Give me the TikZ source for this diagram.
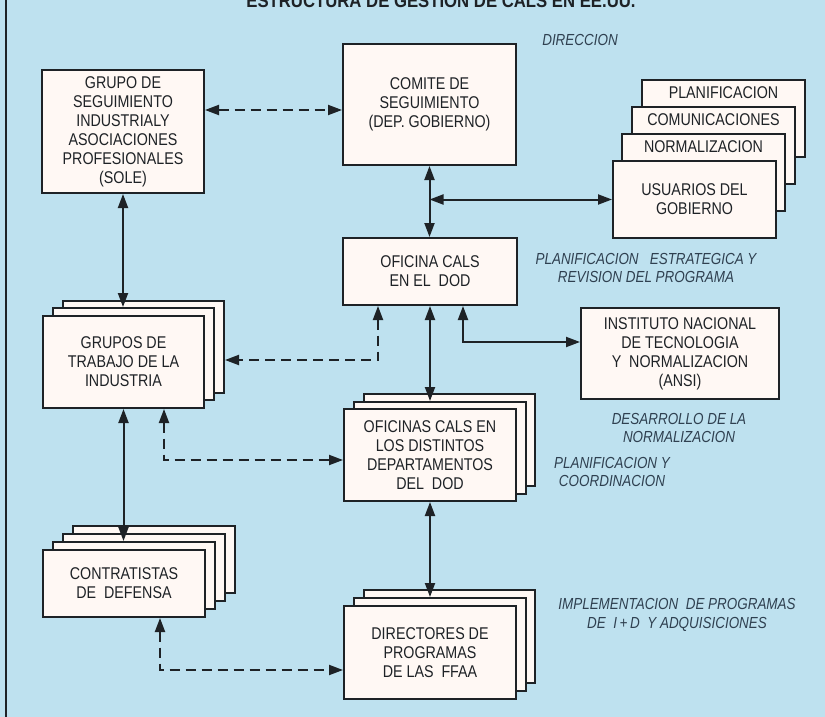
\documentclass[tikz,border=0pt]{standalone}
\usepackage{fontspec}
\setmainfont[FakeStretch=0.84]{Liberation Sans}
\newfontfamily\titlefont[FakeStretch=0.88]{Liberation Sans}
\usetikzlibrary{arrows.meta,calc}
\definecolor{bgblue}{HTML}{BEE1EF}
\definecolor{boxfill}{HTML}{FFF8F4}
\definecolor{ink}{HTML}{1E2226}
\definecolor{labink}{HTML}{2F4050}
\newcommand\mkbox[6]{\node[box,minimum width={(#4-#2)*1pt},minimum height={(#5-#3)*1pt}] (#1) at (#2,#3) {#6};}
\begin{document}
\begin{tikzpicture}[x=1pt,y=-1pt,
  >={Triangle[length=14pt,width=10pt]},
  box/.style={draw=ink,fill=boxfill,line width=2pt,inner sep=0pt,anchor=north west,align=center,
    font=\fontsize{17}{19}\selectfont,text=ink},
  txt/.style={inner sep=0pt,align=center,font=\fontsize{17}{19}\selectfont,text=ink},
  lab/.style={inner sep=0pt,align=center,font=\itshape\fontsize{16}{18.5}\selectfont,text=labink},
  arr/.style={draw=ink,line width=2pt,<->},
  dsh/.style={dash pattern=on 10pt off 6pt}]
\useasboundingbox (0,0) rectangle (825,717);
\fill[bgblue] (0,0) rectangle (825,717);
\draw[ink,line width=2.5pt] (6,0) -- (6,717);
\node[font=\titlefont\bfseries\fontsize{19}{19}\selectfont,text=ink,anchor=base,inner sep=0pt] (title) at (441,8) {ESTRUCTURA DE GESTION DE CALS EN EE.UU.};
% single boxes
\mkbox{gs}{41}{69}{203}{192}{GRUPO DE\\SEGUIMIENTO\\INDUSTRIALY\\ASOCIACIONES\\PROFESIONALES\\(SOLE)}
\mkbox{com}{342}{43}{515}{164}{COMITE DE\\SEGUIMIENTO\\(DEP. GOBIERNO)}
\mkbox{ofi}{342}{237}{516}{304}{OFICINA CALS\\EN EL\ \ DOD}
\mkbox{ins}{580}{307}{778}{398}{INSTITUTO NACIONAL\\DE TECNOLOGIA\\Y\ \ NORMALIZACION\\(ANSI)}
% right stack
\mkbox{pla}{641}{79}{804}{156}{}
\node[txt] (plat) at ($(pla.north)+(0,14)$) {PLANIFICACION};
\mkbox{cmn}{631}{106}{794}{183}{}
\node[txt] (cmnt) at ($(cmn.north)+(0,14)$) {COMUNICACIONES};
\mkbox{nor}{621}{133}{784}{210}{}
\node[txt] (nort) at ($(nor.north)+(0,14)$) {NORMALIZACION};
\mkbox{usu}{612}{160}{775}{237}{USUARIOS DEL\\GOBIERNO}
% grupos de trabajo
\mkbox{gt2}{62}{300}{223}{392}{}
\mkbox{gt1}{52}{307}{213}{399}{}
\mkbox{gt}{42}{315}{203}{407}{GRUPOS DE\\TRABAJO DE LA\\INDUSTRIA}
% oficinas cals
\mkbox{ofs2}{363}{393}{534}{485}{}
\mkbox{ofs1}{353}{401}{525}{493}{}
\mkbox{ofs}{343}{408}{515}{500}{OFICINAS CALS EN\\LOS DISTINTOS\\DEPARTAMENTOS\\DEL\ \ DOD}
% contratistas
\mkbox{ct3}{72}{525}{234}{592}{}
\mkbox{ct2}{62}{533}{224}{600}{}
\mkbox{ct1}{52}{541}{214}{608}{}
\mkbox{ct}{42}{549}{204}{616}{CONTRATISTAS\\DE\ \ DEFENSA}
% directores
\mkbox{dr2}{363}{589}{534}{682}{}
\mkbox{dr1}{353}{597}{525}{690}{}
\mkbox{dr}{343}{605}{515}{698}{DIRECTORES DE\\PROGRAMAS\\DE LAS\ \ FFAA}
% labels
\node[lab] (l1) at (580,40) {DIRECCION};
\node[lab] (l2) at (646,268) {PLANIFICACION\ \ \ ESTRATEGICA Y\\REVISION DEL PROGRAMA};
\node[lab] (l3) at (679,428) {DESARROLLO DE LA\\NORMALIZACION};
\node[lab] (l4) at (612,472) {PLANIFICACION Y\\COORDINACION};
\node[lab] (l5) at (677,615) {IMPLEMENTACION\ \ DE PROGRAMAS\\DE\ \ I\,+\,D\ \ Y ADQUISICIONES};
% connectors
\coordinate (y110) at (0,110);
\draw[arr,dsh] (gs.east |- y110) -- (com.west |- y110);
\coordinate (j1) at (com.south |- usu.west);
\draw[arr] (com.south) -- (com.south |- ofi.north);
\draw[arr] (j1) -- (usu.west);
\draw[arr] (ofi.south) -- (ofi.south |- ofs1.north);
\coordinate (k2) at (463,342);
\draw[arr] (ofi.south -| k2) -- (k2) -- (ins.west |- k2);
\coordinate (k3) at (378,360);
\draw[arr,dsh] (ofi.south -| k3) -- (k3) -- (gt2.east |- k3);
\draw[arr] (gs.south) -- (gs.south |- gt1.north);
\draw[arr] (gt.south) -- (gt.south |- ct1.north);
\coordinate (k4) at (164,460);
\draw[arr,dsh] (gt.south -| k4) -- (k4) -- (ofs.west |- k4);
\coordinate (k5) at (160,670);
\draw[arr,dsh] (ct.south -| k5) -- (k5) -- (dr.west |- k5);
\draw[arr] (ofs.south) -- (ofs.south |- dr1.north);
\end{tikzpicture}
\end{document}
